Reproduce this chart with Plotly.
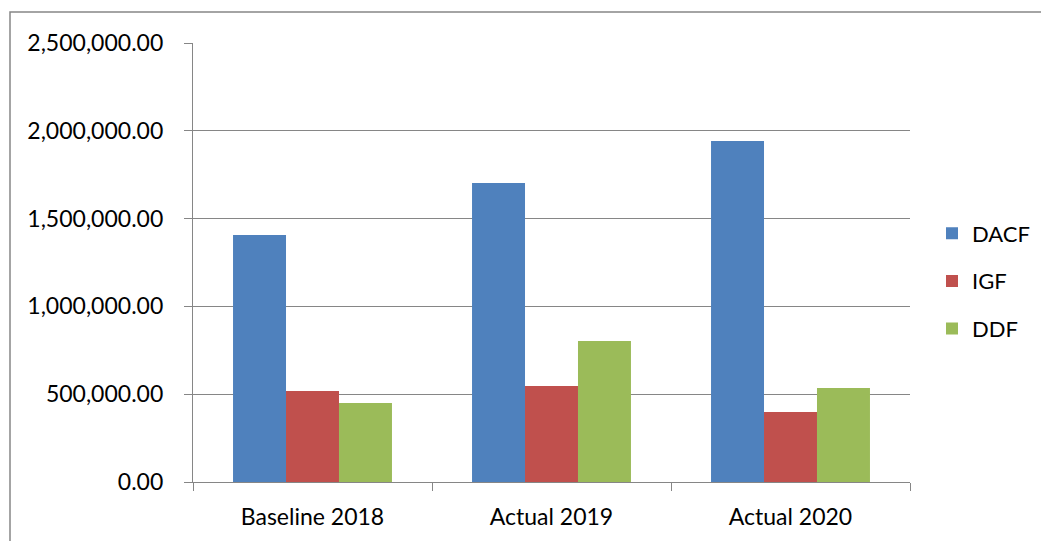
import plotly.graph_objects as go

categories = ["Baseline 2018", "Actual 2019", "Actual 2020"]
dacf = [1406000, 1703000, 1942000]
igf = [518000, 547000, 399000]
ddf = [450000, 803000, 535000]

series = [("DACF", dacf, "#4F81BD"), ("IGF", igf, "#C0504D"), ("DDF", ddf, "#9BBB59")]

fig = go.Figure()
for i, (name, vals, col) in enumerate(series):
    fig.add_trace(go.Bar(name=name, x=categories, y=vals, marker_color=col,
                         marker_line_width=0, legendgroup=name))

W, H = 1041, 541
L, R, T, B = 193, 910, 43, 482
pw, ph = R - L, B - T

def px(x):
    return (x - L) / pw

def py(y):
    return (B - y) / ph

fig.update_layout(
    width=W, height=H,
    margin=dict(l=L, r=W - R, t=T, b=H - B, pad=0),
    plot_bgcolor="white", paper_bgcolor="white",
    barmode="group", bargap=0.335, bargroupgap=0,
    font=dict(family="Lato, Liberation Sans, sans-serif", size=23, color="black"),
    legend=dict(xref="container", yref="container", x=932 / W, y=(H - 281) / H,
                xanchor="left", yanchor="middle",
                tracegroupgap=16, font=dict(size=22), itemwidth=30),
    shapes=[dict(type="rect", xref="paper", yref="paper",
                 x0=px(10), x1=px(1080), y0=py(580), y1=py(12),
                 line=dict(color="#868686", width=1.5), layer="below")],
)
fig.update_yaxes(range=[0, 2500000], dtick=500000, tickformat=",.2f",
                 showgrid=True, gridcolor="#868686", gridwidth=1.3,
                 showline=True, linecolor="#868686", linewidth=1.3,
                 ticks="outside", ticklen=8, tickcolor="#868686", tickwidth=1.3,
                 ticklabelstandoff=16,
                 zeroline=False, fixedrange=True)
fig.update_xaxes(showline=True, linecolor="#868686", linewidth=1.3,
                 ticks="outside", ticklen=8, tickcolor="#868686", tickwidth=1.3,
                 tickson="boundaries", showgrid=False, fixedrange=True,
                 ticklabelstandoff=14)

fig.write_html("out.html", config={"displayModeBar": False},
               post_script="document.body.style.margin='0';document.body.style.overflow='hidden';")
